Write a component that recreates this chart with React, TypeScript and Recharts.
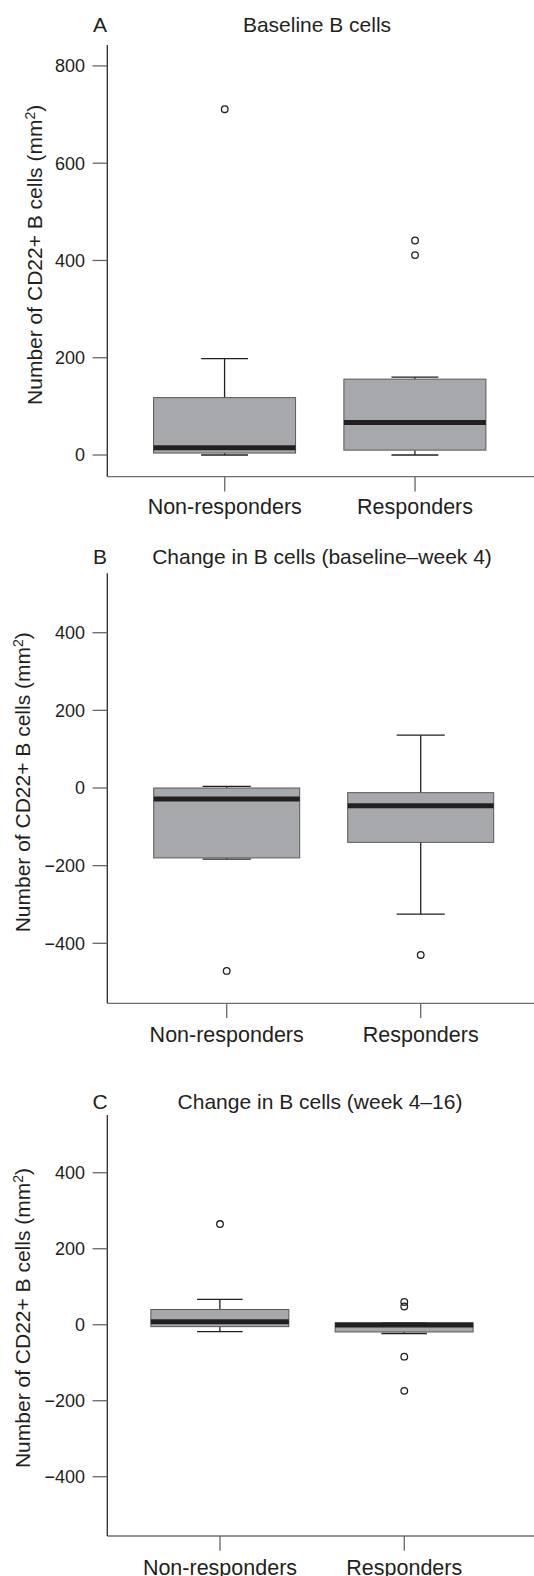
import React from "react";
import { ComposedChart, Bar, Scatter, XAxis, YAxis } from "recharts";

const groups = ["Non-responders", "Responders"];

// A: baseline B cells
const baseLow = [0, 0];
const baseQ1 = [4, 10];
const baseMedian = [15, 67];
const baseQ3 = [118, 156];
const baseHigh = [198, 160];
const baseOutGroup = [1, 2, 2];
const baseOutValue = [711, 441, 411];

// B: change baseline - week 4
const wk4Low = [-183, -325];
const wk4Q1 = [-180, -140];
const wk4Median = [-28, -46];
const wk4Q3 = [0, -12];
const wk4High = [4, 136];
const wk4OutGroup = [1, 2];
const wk4OutValue = [-471, -430];

// C: change week 4 - 16
const wk16Low = [-18, -23];
const wk16Q1 = [-5, -19];
const wk16Median = [8, -1];
const wk16Q3 = [40, 5];
const wk16High = [67, 5];
const wk16OutGroup = [1, 2, 2, 2, 2];
const wk16OutValue = [265, 60, 48, -84, -174];

const posTicks = [0, 200, 400, 600, 800];
const symTicks = [-400, -200, 0, 200, 400];

const FONT = '"Liberation Sans", Arial, Helvetica, sans-serif';
const INK = "#231f20";
const Y_AXIS = "#2a2a2a";
const X_AXIS = "#6e6e6e";
const TICK = "#666";
const BOX_FILL = "#a7a8ab";
const BOX_EDGE = "#58585a";

const buildRows = (low: number[], q1: number[], median: number[], q3: number[], high: number[]) =>
  groups.map((name, i) => ({
    x: i + 1,
    name,
    whisker: [low[i], high[i]],
    low: low[i],
    q1: q1[i],
    median: median[i],
    q3: q3[i],
    high: high[i],
  }));

const buildOutliers = (g: number[], v: number[]) => g.map((x, i) => ({ x, value: v[i] }));

const panels = [
  {
    letter: "A",
    title: "Baseline B cells",
    rows: buildRows(baseLow, baseQ1, baseMedian, baseQ3, baseHigh),
    outliers: buildOutliers(baseOutGroup, baseOutValue),
    yDomain: [-44.6, 843],
    yTicks: posTicks,
    xDomain: [0.383, 2.625],
    top: 0,
    height: 520,
    marginTop: 45,
    xAxisHeight: 43.3,
    boxWidth: 142,
    xTickMargin: 7.3,
    labelX: 41.7,
    labelShift: -6,
    titleTop: 13.9,
    titleX: 317,
  },
  {
    letter: "B",
    title: "Change in B cells (baseline\u2013week 4)",
    rows: buildRows(wk4Low, wk4Q1, wk4Median, wk4Q3, wk4High),
    outliers: buildOutliers(wk4OutGroup, wk4OutValue),
    yDomain: [-554.5, 553],
    yTicks: symTicks,
    xDomain: [0.3845, 2.584],
    top: 520,
    height: 540,
    marginTop: 53.3,
    xAxisHeight: 56.7,
    boxWidth: 146,
    xTickMargin: 8.4,
    labelX: 30,
    labelShift: -6,
    titleTop: 25.5,
    titleX: 322,
  },
  {
    letter: "C",
    title: "Change in B cells (week 4\u201316)",
    rows: buildRows(wk16Low, wk16Q1, wk16Median, wk16Q3, wk16High),
    outliers: buildOutliers(wk16OutGroup, wk16OutValue),
    yDomain: [-556, 552],
    yTicks: symTicks,
    xDomain: [0.3885, 2.704],
    top: 1060,
    height: 516,
    marginTop: 55,
    xAxisHeight: 40,
    boxWidth: 138,
    xTickMargin: 9.3,
    labelX: 30,
    labelShift: -7.5,
    titleTop: 30.5,
    titleX: 320,
  },
];

const BoxShape = (props: any) => {
  const { x, y, width, height, payload } = props;
  if (!payload) return null;
  const top = Math.min(y, y + height);
  const bottom = Math.max(y, y + height);
  const { low, high, q1, q3, median } = payload;
  const py = (v: number) => top + ((high - v) / (high - low)) * (bottom - top);
  const cx = x + width / 2;
  const cap = width * 0.165;
  return (
    <g>
      <line x1={cx} x2={cx} y1={py(high)} y2={py(q3)} stroke={INK} strokeWidth={1.3} />
      <line x1={cx} x2={cx} y1={py(q1)} y2={py(low)} stroke={INK} strokeWidth={1.3} />
      <line x1={cx - cap} x2={cx + cap} y1={py(high)} y2={py(high)} stroke={INK} strokeWidth={1.3} />
      <line x1={cx - cap} x2={cx + cap} y1={py(low)} y2={py(low)} stroke={INK} strokeWidth={1.3} />
      <rect x={x} y={py(q3)} width={width} height={py(q1) - py(q3)} fill={BOX_FILL} stroke={BOX_EDGE} strokeWidth={1} />
      <line x1={x} x2={x + width} y1={py(median)} y2={py(median)} stroke={INK} strokeWidth={5} />
    </g>
  );
};

const Outlier = (props: any) => (
  <circle cx={props.cx} cy={props.cy} r={3.3} fill="none" stroke={INK} strokeWidth={1.3} />
);

const yLabel = (baseX: number, shift: number) => (props: any) => {
  const vb = props.viewBox || {};
  const cy = (vb.y ?? 0) + (vb.height ?? 0) / 2 + shift;
  return (
    <text
      x={baseX}
      y={cy}
      transform={`rotate(-90 ${baseX} ${cy})`}
      textAnchor="middle"
      fontSize={21}
      fill={INK}
      fontFamily={FONT}
    >
      Number of CD22+ B cells (mm<tspan dy={-7} fontSize={14}>2</tspan>
      <tspan dy={7}>)</tspan>
    </text>
  );
};

const fmtY = (v: number) => (v < 0 ? `\u2212${-v}` : `${v}`);

const Panel = ({ p }: { p: (typeof panels)[number] }) => (
  <div style={{ position: "absolute", left: 0, top: p.top, width: 534, height: p.height }}>
    <div
      style={{
        position: "absolute",
        left: 80,
        width: 40,
        top: p.titleTop,
        textAlign: "center",
        fontSize: 21,
        lineHeight: "21px",
      }}
    >
      {p.letter}
    </div>
    <div
      style={{
        position: "absolute",
        left: p.titleX - 250,
        width: 500,
        top: p.titleTop,
        textAlign: "center",
        fontSize: 21,
        lineHeight: "21px",
        whiteSpace: "nowrap",
      }}
    >
      {p.title}
    </div>
    <ComposedChart
      width={534}
      height={p.height}
      data={p.rows}
      margin={{ top: p.marginTop, right: 0, bottom: 0, left: 0 }}
    >
      <XAxis
        dataKey="x"
        type="number"
        domain={p.xDomain}
        ticks={[1, 2]}
        interval={0}
        tickFormatter={(v: number) => groups[v - 1]}
        height={p.xAxisHeight}
        tickSize={14.7}
        tickMargin={p.xTickMargin}
        axisLine={{ stroke: X_AXIS, strokeWidth: 1.3 }}
        tickLine={{ stroke: TICK, strokeWidth: 1.3 }}
        tick={{ fill: INK, fontSize: 21.5, fontFamily: FONT }}
      />
      <YAxis
        type="number"
        domain={p.yDomain}
        ticks={p.yTicks}
        interval={0}
        width={107.3}
        tickSize={14.7}
        tickMargin={7.6}
        tickFormatter={fmtY}
        axisLine={{ stroke: Y_AXIS, strokeWidth: 1.3 }}
        tickLine={{ stroke: TICK, strokeWidth: 1.3 }}
        tick={{ fill: INK, fontSize: 18, fontFamily: FONT }}
        label={yLabel(p.labelX, p.labelShift)}
      />
      <Bar dataKey="whisker" barSize={p.boxWidth} shape={BoxShape} isAnimationActive={false} />
      <Scatter data={p.outliers} dataKey="value" shape={Outlier} isAnimationActive={false} />
    </ComposedChart>
  </div>
);

export default function App() {
  return (
    <div
      style={{
        position: "absolute",
        left: 0,
        top: 0,
        width: 534,
        height: 1576,
        overflow: "hidden",
        background: "#fff",
        fontFamily: FONT,
        color: INK,
      }}
    >
      {panels.map((p) => (
        <Panel key={p.letter} p={p} />
      ))}
    </div>
  );
}
